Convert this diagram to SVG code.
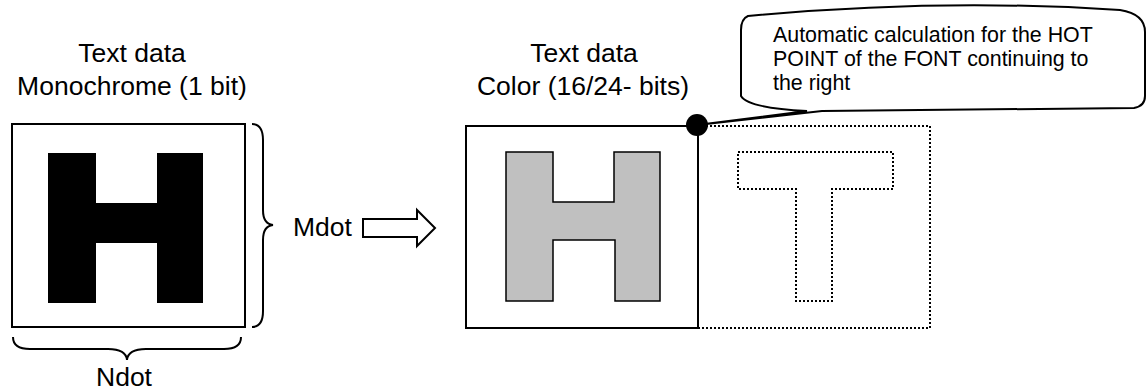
<svg xmlns="http://www.w3.org/2000/svg" width="1148" height="390" viewBox="0 0 1148 390">
<style>
.t{font-family:"Liberation Sans",Arial,sans-serif;font-size:26.5px;fill:#000}
.s{font-family:"Liberation Sans",Arial,sans-serif;font-size:21.4px;fill:#000}
.ln{fill:none;stroke:#000;stroke-width:2}
.dot{fill:none;stroke:#000;stroke-width:2;stroke-dasharray:2 2}
</style>
<rect width="1148" height="390" fill="#fff"/>
<g id="mono">
<text class="t" x="132" y="62" text-anchor="middle">Text data</text>
<text class="t" x="132" y="95" text-anchor="middle">Monochrome (1 bit)</text>
<rect class="ln" x="12" y="124" width="233" height="203"/>
<polygon fill="#000" points="48,153 96,153 96,203 157,203 157,153 203,153 203,303 157,303 157,243 96,243 96,303 48,303"/>
</g>
<g id="mdot">
<path class="ln" d="M252,124 Q263,124 263,140 L263,210 Q263,224 273,225 Q263,226 263,240 L263,311 Q263,327 252,327"/>
<text class="t" x="293" y="236">Mdot</text>
</g>
<g id="ndot">
<path class="ln" d="M13,337 Q13,349 30,349 L108,349 Q126,349 127,360 Q128,349 146,349 L224,349 Q241,349 241,337"/>
<text class="t" x="124" y="386" text-anchor="middle">Ndot</text>
</g>
<g id="connectors">
<polygon class="ln" fill="#fff" points="363,219 417,219 417,210 435,228 417,246 417,237 363,237"/>
</g>
<g id="color">
<text class="t" x="584" y="62" text-anchor="middle">Text data</text>
<text class="t" x="583" y="95" text-anchor="middle">Color (16/24- bits)</text>
<rect class="dot" x="698" y="126" width="232" height="202"/>
<rect class="ln" x="466" y="126" width="232" height="202"/>
<polygon fill="#c0c0c0" stroke="#000" stroke-width="1.5" points="506,152 553,152 553,202 614,202 614,152 660,152 660,301 615,301 615,240 553,240 553,301 506,301"/>
<polygon class="dot" points="738,152 893,152 893,189 832,189 832,301 796,301 796,189 738,189"/>
</g>
<g id="callout">
<path fill="#fff" stroke="#000" stroke-width="2" d="M748,16 Q940,-2 1120,10 Q1145,14 1145,32 L1145,96 Q1145,106 1134,108 L822,111 L697,125 L807,111 Q748,108 741,96 L741,30 Q741,19 748,16 Z"/>
<text class="s" x="773" y="42">Automatic calculation for the HOT</text>
<text class="s" x="773" y="66">POINT of the FONT continuing to</text>
<text class="s" x="773" y="90">the right</text>
<circle cx="697" cy="125" r="11" fill="#000"/>
</g>
</svg>
